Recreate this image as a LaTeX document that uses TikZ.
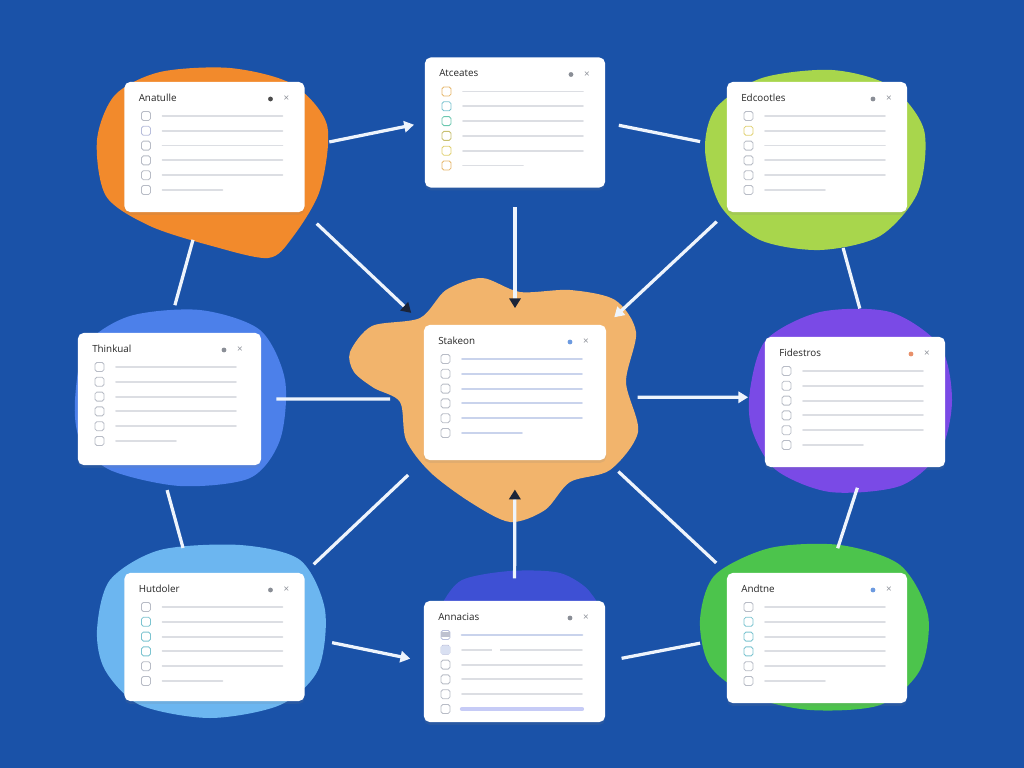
\documentclass[tikz,border=0pt]{standalone}
\usepackage{fontspec}
\setmainfont{Open Sans}
\usepackage{tikz}
\usetikzlibrary{calc, arrows.meta, shadows}

\definecolor{bgblue}{HTML}{1A52A8}
\definecolor{linkwhite}{HTML}{EEF4FC}
\definecolor{tipdark}{HTML}{1B2438}
\definecolor{blobA}{HTML}{F28A2C}
\definecolor{blobB}{HTML}{A8D64C}
\definecolor{blobC}{HTML}{4C80EA}
\definecolor{blobD}{HTML}{F2B46C}
\definecolor{blobE}{HTML}{7A4AE6}
\definecolor{blobF}{HTML}{6CB6F0}
\definecolor{blobG}{HTML}{3E50D4}
\definecolor{blobH}{HTML}{4CC44C}
\definecolor{bxgray}{HTML}{B8BCC6}
\definecolor{bxorange}{HTML}{E6B86C}
\definecolor{bxteal}{HTML}{7CC4D0}
\definecolor{bxgreen}{HTML}{6CC8B0}
\definecolor{bxolive}{HTML}{C8C070}
\definecolor{bxyellow}{HTML}{E0D070}
\definecolor{bxlilac}{HTML}{B8BEDC}
\definecolor{rowgray}{HTML}{DCDEE3}
\definecolor{rowblue}{HTML}{C9D3EC}
\definecolor{dotgray}{HTML}{8A8E96}
\definecolor{dotblue}{HTML}{6C9AE0}
\definecolor{dotorange}{HTML}{E8906A}

% card contents: name, title, dot colour, box colours, row colour
\newcommand{\cardbody}[5]{%
  \begin{scope}[shift={(#1.north west)}]
    \node[cardtitle] (#1-title) at (14,16) {#2};
    \fill[#3] (146,17) circle (2.4);
    \node[cardx] (#1-x) at (162,17) {×};
    \foreach \c [count=\i from 0] in {#4} {
      \draw[boxline, draw=\c] (17,{29.5+14.8*\i}) rectangle ++(9,9);
      \draw[rowline, draw=#5] (38,{34+14.8*\i}) -- ({\i==5 ? 98 : 158},{34+14.8*\i});
    }
  \end{scope}}

\begin{document}
\begin{tikzpicture}[x=0.025cm, y=-0.025cm,
  card/.style={draw=none, fill=white, rounded corners=4pt, inner sep=0pt, outer sep=0pt,
    minimum width=4.5cm, minimum height=3.25cm,
    drop shadow={opacity=0.14, shadow xshift=0pt, shadow yshift=-2pt}},
  cardtitle/.style={anchor=west, inner sep=0pt, text=black!85, font=\fontsize{7}{8}\selectfont},
  cardx/.style={inner sep=0pt, text=dotgray, font=\fontsize{7}{8}\selectfont},
  boxline/.style={line width=0.6pt, rounded corners=1.3pt, fill=white},
  rowline/.style={line width=1.3pt, line cap=round},
  link/.style={draw=linkwhite, line width=2.3pt},
  whitetip/.style={arrows={-Triangle[angle=60:8pt,linkwhite,fill=linkwhite]}},
  darktip/.style={arrows={-Triangle[angle=60:8pt,tipdark,fill=tipdark]}}]

\useasboundingbox (0,0) rectangle (1024,768);
\fill[bgblue] (0,0) rectangle (1024,768);

%Blobs
\fill[blobA] plot [smooth cycle] coordinates {(97,140) (115,95) (160,72) (230,68) (292,84) (327,125) (320,190) (292,238) (268,258) (212,246) (150,226) (106,196)};
\fill[blobB] plot [smooth cycle] coordinates {(705,150) (716,108) (762,78) (832,70) (890,86) (924,130) (918,192) (880,236) (820,250) (760,240) (720,205)};
\fill[blobC] plot [smooth cycle] coordinates {(75,400) (86,345) (130,316) (200,310) (260,330) (285,380) (280,440) (250,478) (180,486) (110,470) (80,440)};
\fill[blobD] plot [smooth cycle] coordinates {(350,352) (372,326) (420,318) (446,290) (482,278) (520,292) (570,290) (615,300) (636,332) (626,382) (638,432) (610,470) (570,482) (545,510) (510,522) (470,502) (430,472) (406,440) (400,402) (374,388) (354,372)};
\fill[blobE] plot [smooth cycle] coordinates {(750,390) (766,340) (820,312) (890,312) (940,346) (952,400) (940,452) (900,486) (830,492) (776,470) (752,430)};
\fill[blobF] plot [smooth cycle] coordinates {(97,630) (110,580) (160,550) (240,545) (300,560) (325,610) (318,670) (280,705) (210,718) (140,705) (105,670)};
\fill[blobG] plot [smooth cycle] coordinates {(442,604) (462,580) (510,571) (560,573) (590,592) (588,615) (442,615)};
\fill[blobH] plot [smooth cycle] coordinates {(700,620) (715,575) (770,548) (840,545) (900,565) (928,615) (920,670) (880,705) (810,710) (750,696) (710,666)};

%Karten
\node[card] (tl) at (214.5,147) {};
\node[card] (tm) at (515,122.5) {};
\node[card] (tr) at (817,147) {};
\node[card, minimum width=4.575cm, minimum height=3.3cm] (ml) at (169.5,399) {};
\node[card, minimum width=4.55cm, minimum height=3.375cm] (c) at (515,392.5) {};
\node[card] (mr) at (855,402) {};
\node[card, minimum height=3.2cm] (bl) at (214.5,637) {};
\node[card, minimum width=4.525cm, minimum height=3.025cm] (bm) at (514.5,661.5) {};
\node[card] (br) at (817,638) {};

\cardbody{tl}{Anatulle}{black!70}{bxgray,bxlilac,bxgray,bxgray,bxgray,bxgray}{rowgray}
\cardbody{tm}{Atceates}{dotgray}{bxorange,bxteal,bxgreen,bxolive,bxyellow,bxorange}{rowgray}
\cardbody{tr}{Edcootles}{dotgray}{bxgray,bxyellow,bxgray,bxgray,bxgray,bxgray}{rowgray}
\cardbody{ml}{Thinkual}{dotgray}{bxgray,bxgray,bxgray,bxgray,bxgray,bxgray}{rowgray}
\cardbody{c}{Stakeon}{dotblue}{bxgray,bxgray,bxgray,bxgray,bxgray,bxgray}{rowblue}
\cardbody{mr}{Fidestros}{dotorange}{bxgray,bxgray,bxgray,bxgray,bxgray,bxgray}{rowgray}
\cardbody{bl}{Hutdoler}{dotgray}{bxgray,bxteal,bxteal,bxteal,bxgray,bxgray}{rowgray}
\cardbody{bm}{Annacias}{dotgray}{bxlilac,bxlilac,bxgray,bxgray,bxgray,bxgray}{rowgray}
\cardbody{br}{Andtne}{dotblue}{bxgray,bxteal,bxteal,bxteal,bxgray,bxgray}{rowgray}

%Annacias Zeilen
\begin{scope}[shift={(bm.north west)}]
  \fill[bxlilac!80!black!60] (17,31.5) rectangle ++(9,5);
  \fill[rowblue!70] (17.3,44.6) rectangle ++(8.4,8.4);
  \draw[rowline, draw=rowblue, line width=2pt] (38,34) -- (158,34);
  \draw[white, line width=2.5pt] (68,48.8) -- (76,48.8);
  \draw[rowline, draw=rowblue!80!blue!60, line width=3pt] (38,108) -- (158,108);
\end{scope}

%Verbindungen
\draw[link, whitetip, shorten <=18pt, shorten >=8pt] (tl.east) -- (tm.west);
\draw[link, darktip, shorten <=14pt, shorten >=12pt] (tm.south) -- (c.north);
\draw[link, darktip, shorten <=12pt, shorten >=12.5pt] (tl.south east) -- (c.north west);
\draw[link, whitetip, shorten <=10pt, shorten >=8pt] (tr.south west) -- (c.north east);
\draw[link, shorten <=10pt, shorten >=19.5pt] (tm.east) -- (tr.west);
\draw[link, shorten <=20.5pt, shorten >=20.5pt] (tl.-102) -- (ml.92);
\draw[link, shorten <=26.5pt, shorten >=21pt] (tr.-76) -- (mr.79);
\draw[link, shorten <=11pt, shorten >=24pt] (ml.east) -- (c.184.1);
\draw[link, whitetip, shorten <=22.5pt, shorten >=12pt] (c.-3.5) -- (mr.177.5);
\draw[link, shorten <=18.5pt, shorten >=18.5pt] (ml.-98) -- (bl.111);
\draw[link, shorten <=15.5pt, shorten >=18.5pt] (mr.-82) -- (br.79);
\draw[link, shorten <=15.5pt, shorten >=9pt] (c.south west) -- (bl.north east);
\draw[link, shorten <=12pt, shorten >=10.5pt] (c.south east) -- (br.north west);
\draw[link, darktip, shorten <=16pt, shorten >=21pt] (bm.north) -- (c.south);
\draw[link, whitetip, shorten <=20pt, shorten >=10pt] (bl.east) -- (bm.west);
\draw[link, shorten <=19.5pt, shorten >=12pt] (br.west) -- (bm.east);

\end{tikzpicture}
\end{document}
